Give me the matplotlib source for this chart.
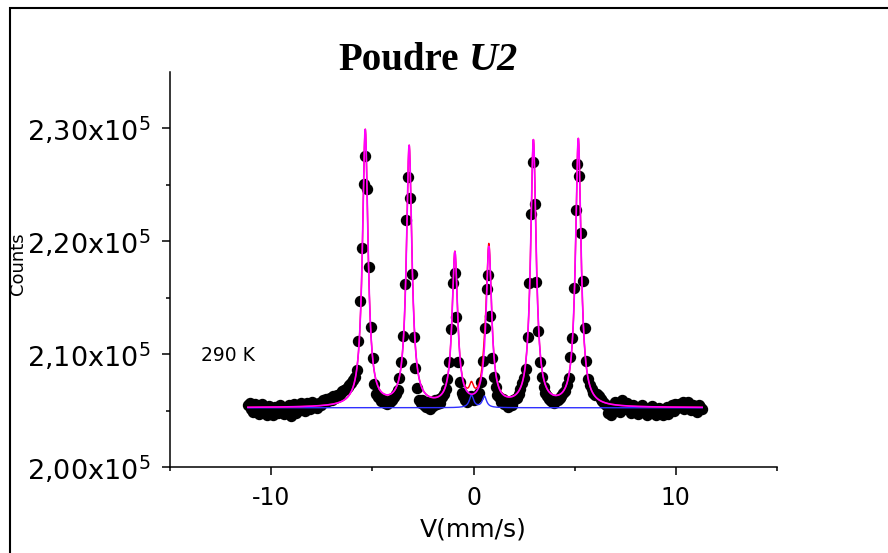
import numpy as np
import matplotlib
matplotlib.use("Agg")
import matplotlib.pyplot as plt
from matplotlib.patches import Rectangle

# --- данные ---
V_START, V_STOP = -11.15, 11.30      # скорость первого / последнего канала, mm/s

counts = [
    205450, 205700, 205100, 204850, 205600, 205300, 204700, 205150, 205550, 204900,
    205200, 204650, 205400, 205050, 204600, 205350, 205000, 204750, 205500, 205100,
    204700, 205250, 204900, 205450, 204550, 205150, 205600, 204800, 205300, 205050,
    205700, 205200, 204950, 205650, 205400, 205100, 205800, 205350, 205550, 205250,
    205700, 205500, 205900, 205750, 206050, 205850, 206100, 205950, 206250, 206150,
    206400, 206300, 206600, 206700, 206800, 206950, 207100, 207250, 207450, 207750,
    208000, 208600, 211150, 214700, 219400, 225050, 227600, 224600, 217700, 212400,
    209700, 207350, 206500, 206200, 206150, 205850, 205950, 205700, 205600, 205850,
    205750, 205900, 206200, 206450, 206800, 207850, 209320, 211620, 216200, 221860,
    225690, 223840, 217140, 211480, 208740, 206970, 205930, 205700, 205950, 205500,
    205350, 205800, 205100, 205650, 205400, 205900, 205550, 206000, 205700, 206200,
    206500, 206900, 207790, 209270, 212210, 216260, 217230, 213250, 209320, 207550,
    206520, 206300, 205950, 205800, 206100, 206300, 206100, 205900, 206080, 206300,
    206520, 207550, 209380, 212360, 215730, 217050, 213390, 209670, 207990, 207110,
    206370, 206200, 205800, 206000, 205550, 205750, 205300, 205650, 205450, 205900,
    206000, 206150, 206500, 206900, 207400, 207900, 208650, 211530, 216260, 222390,
    227020, 223340, 216400, 212060, 209320, 207990, 207100, 206550, 206300, 206050,
    205850, 205750, 205650, 205900, 205950, 206150, 206250, 206600, 206750, 207300,
    207850, 209760, 211440, 215820, 222750, 226880, 225750, 220740, 216490, 212330,
    209410, 207760, 207300, 206900, 206600, 206400, 206500, 206300, 206000, 205850,
    205700, 205500, 204800, 205300, 204650, 205450, 205800, 205200, 205650, 204900,
    205950, 205400, 205100, 205700, 205350, 204800, 205500, 205000, 205300, 204700,
    205150, 205450, 204900, 205200, 204600, 205050, 204750, 205400, 205100, 204650,
    204950, 205250, 204800, 204600, 205000, 205300, 204700, 205150, 205450, 205000,
    205550, 205200, 205600, 205350, 205750, 205100, 205500, 205800, 205350, 205050,
    205500, 205250, 204900, 205450, 205300, 205150,
]

# параметры подгонки (секстет + дублет), тоже по картинке
baseline = 205250
sextet_pos = [-5.35, -3.18, -0.92, 0.76, 2.96, 5.18]
sextet_amp = [24500, 23000, 13500, 13950, 23500, 23700]
sextet_fwhm = 0.33
doublet_pos = [-0.10, 0.54]
doublet_amp = [1100, 1000]
doublet_fwhm = 0.25

yticks = [2.00e5, 2.10e5, 2.20e5, 2.30e5]
ytick_labels = ["2,00x10$^5$", "2,10x10$^5$", "2,20x10$^5$", "2,30x10$^5$"]
xticks = [-10, 0, 10]
xminor = [-15, -5, 5, 15]
yminor = [2.05e5, 2.15e5, 2.25e5]


def lorentz(v, pos, amp, fwhm):
    out = np.zeros_like(v)
    for p, a in zip(pos, amp):
        out += a / (1 + (2 * (v - p) / fwhm) ** 2)
    return out


plt.rcParams["font.family"] = ["DejaVu Sans"]
plt.rcParams["mathtext.default"] = "regular"

fig = plt.figure(figsize=(8.88, 5.53), dpi=100)
ax = fig.add_axes([170 / 888, 1 - 467 / 553, 607 / 888, 395 / 553])

vel = np.linspace(V_START, V_STOP, len(counts))
v_fit = np.linspace(V_START, V_STOP, 3000)
sext = lorentz(v_fit, sextet_pos, sextet_amp, sextet_fwhm)
doub = lorentz(v_fit, doublet_pos, doublet_amp, doublet_fwhm)

ax.plot(vel, counts, "o", color="black", ms=7.2, mec="black", zorder=1)
ax.plot(v_fit, baseline + doub, color="#3030ff", lw=1.0, zorder=2)
ax.plot(v_fit, baseline + sext + doub, color="red", lw=1.0, zorder=3)
ax.plot(v_fit, baseline + sext, color="#ff00ff", lw=1.2, zorder=4)

ax.set_xlim(-15, 15)
ax.set_ylim(2.0e5, 2.35e5)
ax.set_xticks(xticks)
ax.set_xticklabels([str(t) for t in xticks])
ax.set_xticks(xminor, minor=True)
ax.set_yticks(yticks)
ax.set_yticklabels(ytick_labels)
ax.set_yticks(yminor, minor=True)

for s in ("top", "right"):
    ax.spines[s].set_visible(False)
for s in ("left", "bottom"):
    ax.spines[s].set_linewidth(1.1)
ax.tick_params(which="major", direction="out", length=6, width=1.1)
ax.tick_params(which="minor", direction="out", length=3, width=1.1)
ax.tick_params(axis="x", which="major", labelsize=17, pad=8)
ax.tick_params(axis="y", which="major", labelsize=19.5, pad=8)

ax.set_xlabel("V(mm/s)", fontsize=18, labelpad=5)
fig.text(18 / 888, 1 - 264 / 553, "Counts", rotation=90, fontsize=13,
         ha="center", va="center")
ax.text(-13.45, 2.099e5, "290 K", fontsize=13.5, va="center")

# заголовок: "Poudre" жирным, "U2" жирным курсивом
t1 = fig.text(338 / 888, 1 - 70 / 553, "Poudre", fontsize=28, weight="bold",
              family="Liberation Serif", ha="left", va="baseline")
ax.annotate("U2", xy=(1, 0), xycoords=t1, xytext=(7, 0), textcoords="offset points",
            fontsize=29, weight="bold", style="italic", family="Liberation Serif",
            ha="left", va="bottom", annotation_clip=False)

# рамка вокруг всей картинки
fig.patches.append(Rectangle((10 / 888, -0.5), 2, 1.5 - 8 / 553, transform=fig.transFigure,
                             fill=False, lw=1.5, ec="black"))

fig.savefig("out.png", dpi=100)
